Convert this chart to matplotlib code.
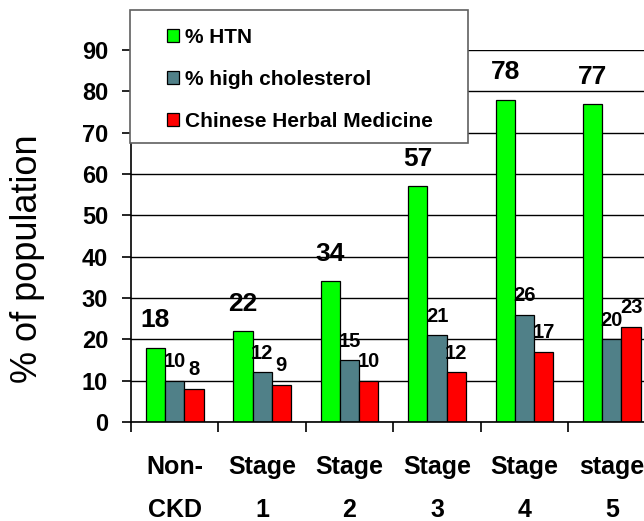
import numpy as np
import matplotlib
matplotlib.use("Agg")
import matplotlib.pyplot as plt
from matplotlib.patches import Rectangle

plt.rcParams['font.family'] = ['Liberation Sans', 'DejaVu Sans']

# CKD stage groups and the three measures (% of population)
stages = ["Non-\nCKD", "Stage\n1", "Stage\n2", "Stage\n3", "Stage\n4", "stage\n5"]
htn = [18, 22, 34, 57, 78, 77]
cholesterol = [10, 12, 15, 21, 26, 20]
herbal = [8, 9, 10, 12, 17, 23]
series_names = ["% HTN", "% high cholesterol", "Chinese Herbal Medicine"]
series_colors = ["#00ff00", "#508088", "#ff0000"]
yticks = list(range(0, 100, 10))

W, H = 644, 521
fig = plt.figure(figsize=(W / 100, H / 100), dpi=100)
# plot area runs past the right edge of the figure
ax = fig.add_axes([131 / W, 1 - 422 / H, 524.5 / W, 372 / H])

x = np.arange(len(stages))
bw = 0.22
series = [htn, cholesterol, herbal]
for i, (vals, col) in enumerate(zip(series, series_colors)):
    bars = ax.bar(x + (i - 1) * bw, vals, bw, color=col, edgecolor='black',
                  linewidth=0.9, zorder=2)
    big = (i == 0)
    for b, v in zip(bars, vals):
        ax.annotate(str(v), (b.get_x() + b.get_width() / 2, v),
                    xytext=(0, 14.5 if big else 9.7), textcoords='offset points',
                    ha='center', va='baseline', fontweight='bold',
                    fontsize=19 if big else 14.5, zorder=4)

ax.set_xlim(-0.5, len(stages) - 0.5)
ax.set_ylim(0, 90)
ax.set_yticks(yticks)
ax.yaxis.grid(True, color='black', linewidth=1.0)
ax.set_axisbelow(True)

ax.set_xticks(x)
ax.set_xticklabels(stages, fontsize=18, fontweight='bold', linespacing=1.98)
ax.set_xticks(np.arange(len(stages) + 1) - 0.5, minor=True)
ax.tick_params(axis='x', which='major', length=0, pad=24)
ax.tick_params(axis='x', which='minor', length=7.5, width=1.2, direction='out')
ax.tick_params(axis='y', length=6.5, width=1.2, pad=10, labelsize=17)
for lab in ax.get_yticklabels():
    lab.set_fontweight('bold')

for s in ['top', 'right']:
    ax.spines[s].set_visible(False)
for s in ['left', 'bottom']:
    ax.spines[s].set_linewidth(1.2)

ax.set_ylabel("% of population", fontsize=26, va='center')
ax.yaxis.set_label_coords(-0.198, 0.438)

# legend box sits over the upper left of the plot
fig.patches.append(Rectangle((130 / W, 1 - 143 / H), 338 / W, 133 / H,
                             transform=fig.transFigure, facecolor='white',
                             edgecolor='#606060', linewidth=1.2, zorder=3))
handles = [Rectangle((0, 0), 1, 1, facecolor=c, edgecolor='black', linewidth=0.9)
           for c in series_colors]
fig.legend(handles, series_names, loc='upper left',
           bbox_to_anchor=(167 / W, 1 - 28 / H), frameon=False,
           borderpad=0, borderaxespad=0, handlelength=0.58, handleheight=0.58,
           handletextpad=0.3, labelspacing=1.11,
           prop={'weight': 'bold', 'size': 15})

fig.savefig("out.png", dpi=100)
